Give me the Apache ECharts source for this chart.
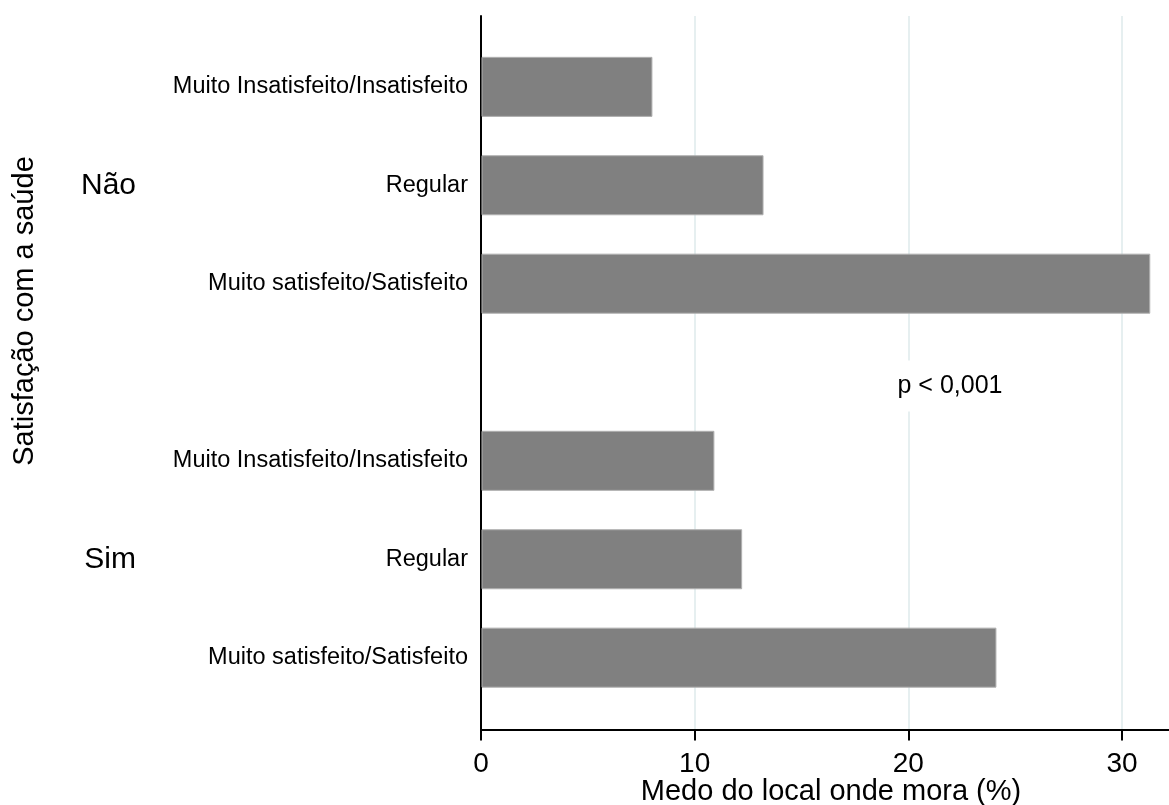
<!DOCTYPE html>
<html>
<head>
<meta charset="utf-8">
<script src="https://cdn.jsdelivr.net/npm/echarts@6/dist/echarts.min.js"></script>
<style>
  html, body { margin: 0; padding: 0; background: #ffffff; }
  #chart { width: 1169px; height: 805px; }
</style>
</head>
<body>
<div id="chart"></div>
<script>
// Grupos (satisfação com a saúde) e categorias dentro de cada grupo
const groups = ['Não', 'Sim'];
const categories = ['Muito Insatisfeito/Insatisfeito', 'Regular', 'Muito satisfeito/Satisfeito'];
// Medo do local onde mora (%) por categoria
const naoValues = [8.0, 13.2, 31.3];
const simValues = [10.9, 12.2, 24.1];
const xTicks = [0, 10, 20, 30];
const pValueText = 'p < 0,001';

const groupValues = [naoValues, simValues];
const groupGap = 0.8;            // espaço extra entre os grupos, em unidades de barra
const barFrac = 0.6;             // espessura da barra relativa ao passo

const FONT = '"Liberation Sans", Arial, Helvetica, sans-serif';

// posição de cada barra no eixo vertical
const positions = [];
const labelText = [];
const data = [];
groupValues.forEach((vals, gi) => {
  vals.forEach((v, ci) => {
    const pos = gi * (categories.length + groupGap) + ci;
    positions.push(pos);
    labelText.push(categories[ci]);
    data.push([v, pos]);
  });
});
const groupCenters = groups.map((g, gi) => gi * (categories.length + groupGap) + (categories.length - 1) / 2);

function lookup(value, keys, texts) {
  for (let i = 0; i < keys.length; i++) {
    if (Math.abs(keys[i] - value) < 1e-6) return texts[i];
  }
  return '';
}

const chart = echarts.init(document.getElementById('chart'), null, { renderer: 'canvas' });

chart.setOption({
  backgroundColor: '#ffffff',
  animation: false,
  textStyle: { fontFamily: FONT },
  grid: { left: 481, right: 0, top: 16, bottom: 75.5, containLabel: false, outerBoundsMode: 'none' },
  xAxis: {
    type: 'value',
    min: 0,
    max: 32.2,
    interval: 10,
    name: 'Medo do local onde mora (%)',
    nameLocation: 'middle',
    nameGap: 48,
    nameMoveOverlap: false,
    nameTextStyle: { fontSize: 29, color: '#000', fontFamily: FONT, padding: [0, 0, 0, 12] },
    axisLine: { show: true, onZero: false, lineStyle: { color: '#000', width: 2 } },
    axisTick: { show: true, length: 11, customValues: xTicks, lineStyle: { color: '#000', width: 2 } },
    axisLabel: {
      customValues: xTicks,
      fontSize: 28, color: '#000', fontFamily: FONT, margin: 21
    },
    splitLine: { show: true, lineStyle: { color: '#e6eff0', width: 2 } }
  },
  yAxis: [
    {
      type: 'value',
      inverse: true,
      min: -0.72,
      max: 6.53,
      axisLine: { show: true, onZero: false, lineStyle: { color: '#000', width: 2 } },
      axisTick: { show: false },
      splitLine: { show: false },
      axisLabel: {
        customValues: positions,
        fontSize: 23.5, color: '#000', fontFamily: FONT, margin: 13,
        formatter: v => lookup(v, positions, labelText)
      }
    },
    {
      type: 'value',
      inverse: true,
      min: -0.72,
      max: 6.53,
      position: 'left',
      offset: 337,
      axisLine: { show: false, onZero: false },
      axisTick: { show: false },
      splitLine: { show: false },
      axisLabel: {
        customValues: groupCenters,
        fontSize: 30, color: '#000', fontFamily: FONT, margin: 8,
        formatter: v => lookup(v, groupCenters, groups)
      }
    }
  ],
  series: [{
    type: 'custom',
    xAxisIndex: 0,
    yAxisIndex: 0,
    encode: { x: 0, y: 1 },
    data: data,
    renderItem: function (params, api) {
      const v = api.value(0);
      const p = api.value(1);
      const start = api.coord([0, p]);
      const end = api.coord([v, p]);
      const h = Math.abs(api.size([0, barFrac])[1]);
      return {
        type: 'rect',
        shape: { x: start[0] + 1, y: start[1] - h / 2, width: end[0] - start[0] - 1, height: h },
        style: { fill: '#808080', stroke: '#b0b0b0', lineWidth: 1 }
      };
    },
    z: 3
  }],
  graphic: [
    {
      type: 'text',
      x: 25,
      y: 311,
      rotation: Math.PI / 2,
      style: {
        text: 'Satisfação com a saúde',
        fontSize: 29,
        fontFamily: FONT,
        fill: '#000',
        align: 'center',
        verticalAlign: 'middle'
      }
    },
    {
      type: 'text',
      x: 950,
      y: 386,
      z: 10,
      style: {
        text: pValueText,
        fontSize: 25,
        fontFamily: FONT,
        fill: '#000',
        align: 'center',
        verticalAlign: 'middle',
        backgroundColor: '#ffffff',
        padding: [13, 14, 13, 14]
      }
    }
  ]
});
</script>
</body>
</html>
